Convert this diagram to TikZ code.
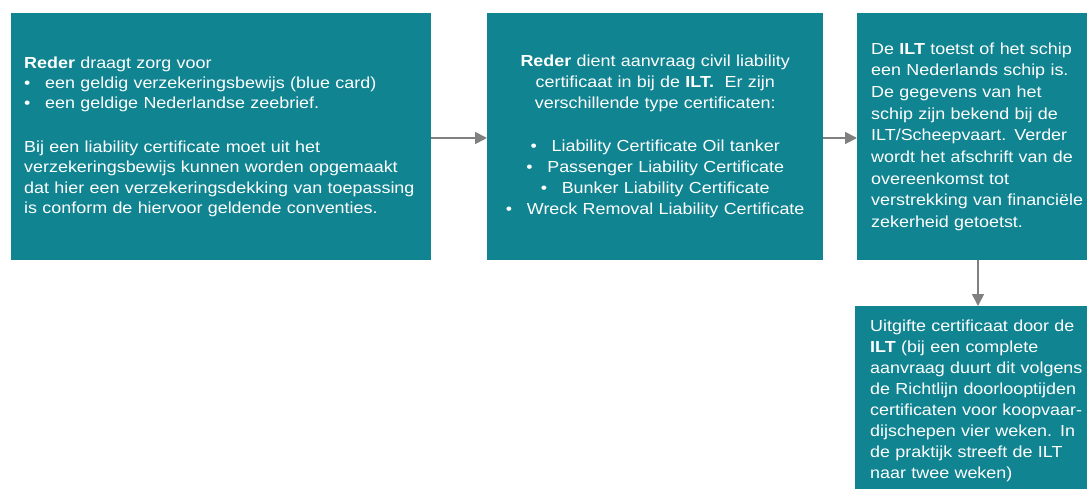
\documentclass[tikz,border=0pt]{standalone}
\usepackage{fontspec}
\setmainfont{Liberation Sans}[FakeStretch=1.12]
\usetikzlibrary{arrows.meta}
\definecolor{tealbox}{RGB}{16,132,145}
\definecolor{arrgray}{RGB}{128,128,128}
\tikzset{
  box/.style={fill=tealbox, draw=none, text=white, anchor=north west, inner ysep=0pt},
  arr/.style={draw=arrgray, line width=1.8pt, -{Triangle[length=12pt,width=12pt]}}
}
\newcommand{\bl}{\makebox[21pt][l]{•}}
\begin{document}
\begin{tikzpicture}[x=1pt,y=-1pt]
\useasboundingbox (0,0) rectangle (1087,489);
\fill[white] (0,0) rectangle (1087,489);
\node[box, minimum width=420pt, minimum height=247pt, text width=394pt, inner xsep=13pt, align=left,
      font=\fontsize{16}{20.4}\selectfont] (b1) at (11,13) {%
\textbf{Reder} draagt zorg voor\\
\bl een geldig verzekeringsbewijs (blue card)\\
\bl een geldige Nederlandse zeebrief.\\[23pt]
Bij een liability certificate moet uit het\\
verzekeringsbewijs kunnen worden opgemaakt\\
dat hier een verzekeringsdekking van toepassing\\
is conform de hiervoor geldende conventies.};
\node[box, minimum width=336pt, minimum height=247pt, text width=320pt, inner xsep=8pt, align=center,
      font=\fontsize{16}{21}\selectfont] (b2) at (487,13) {%
\textbf{Reder} dient aanvraag civil liability\\
certificaat in bij de \textbf{ILT.}\ \ Er zijn\\
verschillende type certificaten:\\[22pt]
\bl Liability Certificate Oil tanker\\
\bl Passenger Liability Certificate\\
\bl Bunker Liability Certificate\\
\bl Wreck Removal Liability Certificate};
\node[box, minimum width=272pt, minimum height=247pt, text width=244pt, inner xsep=14pt, align=left,
      font=\fontsize{16}{21.7}\selectfont] (b3) at (857,13) {%
De \textbf{ILT} toetst of het schip\\
een Nederlands schip is.\\
De gegevens van het\\
schip zijn bekend bij de\\
ILT/Scheepvaart. Verder\\
wordt het afschrift van de\\
overeenkomst tot\\
verstrekking van financiële\\
zekerheid getoetst.};
\node[box, minimum width=274pt, minimum height=190pt, text width=244pt, inner xsep=15pt, align=left,
      font=\fontsize{16}{21}\selectfont] (b4) at (855,306) {%
Uitgifte certificaat door de\\
\textbf{ILT} (bij een complete\\
aanvraag duurt dit volgens\\
de Richtlijn doorlooptijden\\
certificaten voor koopvaar-\\
dijschepen vier weken. In\\
de praktijk streeft de ILT\\
naar twee weken)};
\coordinate (ay) at (0,138);
\coordinate (ax) at (978,0);
\draw[arr] (b1.east |- ay) -- (b2.west |- ay);
\draw[arr] (b2.east |- ay) -- (b3.west |- ay);
\draw[arr] (b3.south -| ax) -- (b4.north -| ax);
\end{tikzpicture}
\end{document}
